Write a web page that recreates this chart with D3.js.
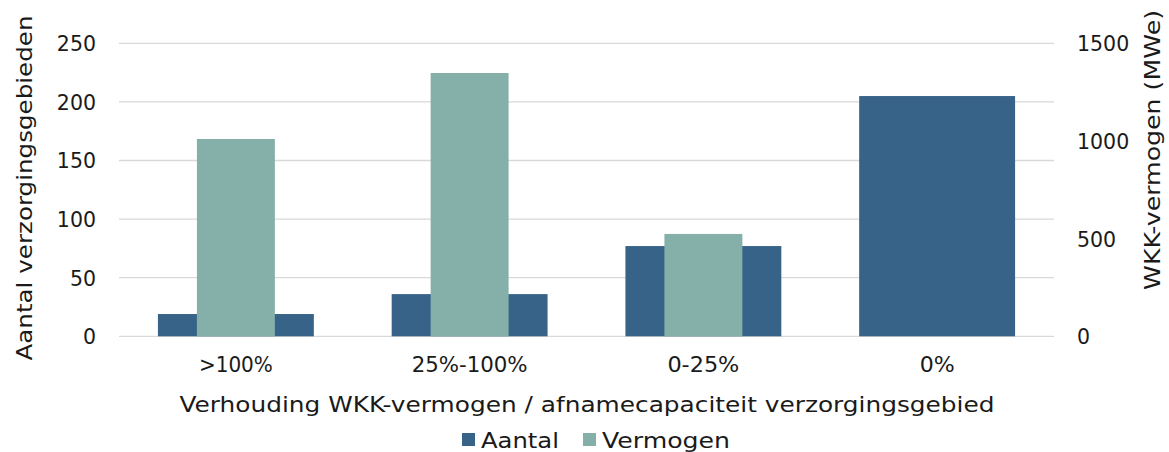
<!DOCTYPE html>
<html><head><meta charset="utf-8">
<script src="https://cdn.jsdelivr.net/npm/d3@7"></script>
<style>body{margin:0;background:#fff}svg{display:block}text{font-family:"DejaVu Sans",sans-serif;fill:#1a1a1a}</style>
</head><body><svg id="c" width="1169" height="452"></svg>
<script>
const categories = [">100%", "25%-100%", "0-25%", "0%"];
const aantal = [19, 36, 77, 205];
const vermogen = [1010, 1348, 524, 0];
const leftTicks = [0, 50, 100, 150, 200, 250];
const rightTicks = [0, 500, 1000, 1500];
const seriesNames = ["Aantal", "Vermogen"];
const colors = ["#376388", "#85b0aa"];

const svg = d3.select("#c");
const m = {l:119, r:1054, t:43.3, b:336.3};
const x = d3.scaleBand().domain(categories).range([m.l, m.r]).paddingInner(0.333).paddingOuter(0.1665);
const yL = d3.scaleLinear().domain([0,250]).range([m.b, m.t]);
const yR = d3.scaleLinear().domain([0,1500]).range([m.b, m.t]);
const fs = 20.5;

svg.append("g").selectAll("line").data(leftTicks).join("line")
  .attr("x1", m.l).attr("x2", m.r).attr("y1", d=>yL(d)).attr("y2", d=>yL(d))
  .attr("stroke", "#d9d9d9").attr("stroke-width", 1.3);

svg.append("g").selectAll("rect").data(categories).join("rect")
  .attr("x", d=>x(d)).attr("width", x.bandwidth())
  .attr("y", (d,i)=>yL(aantal[i])).attr("height", (d,i)=>yL(0)-yL(aantal[i]))
  .attr("fill", colors[0]);
svg.append("g").selectAll("rect").data(categories).join("rect")
  .attr("x", d=>x(d)+x.bandwidth()/4).attr("width", x.bandwidth()/2)
  .attr("y", (d,i)=>yR(vermogen[i])).attr("height", (d,i)=>yR(0)-yR(vermogen[i]))
  .attr("fill", colors[1]);

function styleAxis(g){
  g.select(".domain").remove();
  g.selectAll("text").style("font-size", fs+"px").style("font-family","DejaVu Sans").attr("fill","#1a1a1a");
}
const gL = svg.append("g").attr("transform", `translate(${m.l},0)`)
  .call(d3.axisLeft(yL).tickValues(leftTicks).tickSize(0).tickPadding(23));
styleAxis(gL); gL.selectAll("text").attr("dy","0.36em");

const gR = svg.append("g").attr("transform", `translate(${m.r},0)`)
  .call(d3.axisRight(yR).tickValues(rightTicks).tickFormat(d3.format("d")).tickSize(0).tickPadding(23));
styleAxis(gR); gR.selectAll("text").attr("dy","0.36em");

const gB = svg.append("g").attr("transform", `translate(0,${m.b})`)
  .call(d3.axisBottom(x).tickSize(0).tickPadding(21));
styleAxis(gB);
gB.selectAll("text").attr("textLength", d=>({">100%":74,"25%-100%":116,"0-25%":72,"0%":35})[d]).attr("lengthAdjust","spacingAndGlyphs");

svg.append("text").attr("x", 587).attr("y", 412).attr("text-anchor","middle")
  .attr("textLength", 815).attr("lengthAdjust","spacingAndGlyphs")
  .style("font-size", "22px").text("Verhouding WKK-vermogen / afnamecapaciteit verzorgingsgebied");
svg.append("text").attr("transform","translate(32,188) rotate(-90)").attr("text-anchor","middle")
  .attr("textLength", 345).attr("lengthAdjust","spacingAndGlyphs")
  .style("font-size","22px").text("Aantal verzorgingsgebieden");
svg.append("text").attr("transform","translate(1160,150) rotate(-90)").attr("text-anchor","middle")
  .attr("textLength", 280).attr("lengthAdjust","spacingAndGlyphs")
  .style("font-size","22px").text("WKK-vermogen (MWe)");

const lx = [462, 583];
const lw = [78, 128];
const lg = svg.append("g").selectAll("g").data(seriesNames).join("g")
  .attr("transform",(d,i)=>`translate(${lx[i]},433)`);
lg.append("rect").attr("width",13).attr("height",13).attr("fill",(d,i)=>colors[i]);
lg.append("text").attr("x",19).attr("y",15).style("font-size","22px")
  .attr("textLength",(d,i)=>lw[i]).attr("lengthAdjust","spacingAndGlyphs").text(d=>d);
</script></body></html>
